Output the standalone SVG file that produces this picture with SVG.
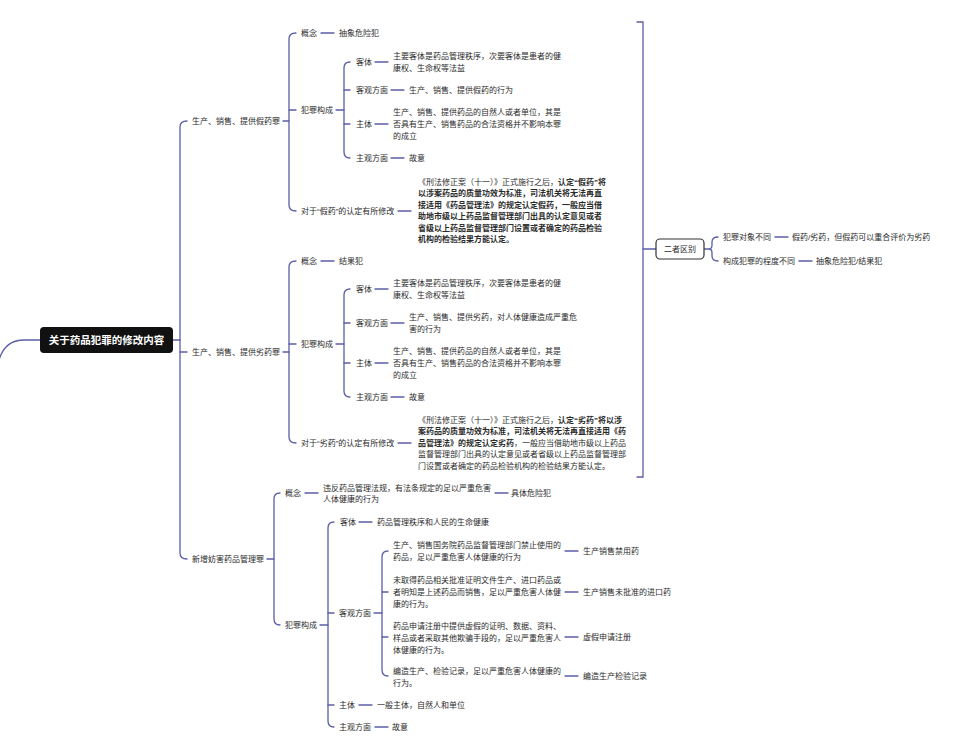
<svg xmlns="http://www.w3.org/2000/svg" width="968" height="745" viewBox="0 0 968 745">
<style>
text{font-family:"Liberation Sans","Noto Sans CJK SC",sans-serif;font-size:8px;fill:#2b2b2b;dominant-baseline:central}
.b{font-weight:bold}
.root{font-size:10.5px;fill:#fff;font-weight:bold;text-anchor:middle}
.mid{text-anchor:middle}
#connectors path{fill:none;stroke:#5b5ea6;stroke-width:1.3;stroke-linecap:round}
</style>
<rect width="968" height="745" fill="#fff"/>
<g id="connectors">
<path d="M-2,364 Q3,340 24,340 H40"/>
<path d="M173,340 H180"/>
<path d="M187,121 Q180,121 180,127 V553 Q180,559 187,559"/>
<path d="M180,352 H187"/>
<path d="M283,121 H289"/>
<path d="M296,33 Q289,33 289,39 V205 Q289,211 296,211"/>
<path d="M289,110 H296"/>
<path d="M321,33 H334"/>
<path d="M336,110 H344"/>
<path d="M350,62 Q344,62 344,68 V152 Q344,158 350,158"/>
<path d="M344,90 H350"/>
<path d="M344,124 H350"/>
<path d="M375,62 H388"/>
<path d="M391,90 H404"/>
<path d="M375,124 H388"/>
<path d="M391,158 H404"/>
<path d="M398,211 H411"/>
<path d="M283,352 H289"/>
<path d="M296,261 Q289,261 289,267 V437 Q289,443 296,443"/>
<path d="M289,344 H296"/>
<path d="M321,261 H334"/>
<path d="M336,344 H344"/>
<path d="M350,289 Q344,289 344,295 V391 Q344,397 350,397"/>
<path d="M344,323 H350"/>
<path d="M344,363 H350"/>
<path d="M375,289 H388"/>
<path d="M391,323 H404"/>
<path d="M375,363 H388"/>
<path d="M391,397 H404"/>
<path d="M398,443 H411"/>
<path d="M637,22 H643 V477 H637"/>
<path d="M643,249 H656"/>
<path d="M704,249 H709"/>
<path d="M718,237 Q712,237 712,242 V245 Q712,249 709,249 Q712,249 712,253 V256 Q712,261 718,261"/>
<path d="M775,237 H788"/>
<path d="M799,261 H812"/>
<path d="M267,559 H274"/>
<path d="M280,493 Q274,493 274,499 V619 Q274,625 280,625"/>
<path d="M305,493 H318"/>
<path d="M495,493 H508"/>
<path d="M320,625 H328"/>
<path d="M334,522 Q328,522 328,528 V721 Q328,727 334,727"/>
<path d="M328,613 H334"/>
<path d="M328,705 H334"/>
<path d="M359,522 H372"/>
<path d="M374,613 H382"/>
<path d="M388,551 Q382,551 382,557 V670 Q382,676 388,676"/>
<path d="M382,592 H388"/>
<path d="M382,637 H388"/>
<path d="M565,551 H578"/>
<path d="M565,592 H578"/>
<path d="M565,637 H578"/>
<path d="M565,676 H578"/>
<path d="M359,705 H372"/>
<path d="M375,727 H388"/>
</g>
<g id="root"><rect x="40" y="327" width="133" height="26" rx="4" fill="#111"/><text class="root" x="106.5" y="340">关于药品犯罪的修改内容</text></g>
<g id="fake"><text x="192" y="121">生产、销售、提供假药罪</text></g>
<g id="fake-concept"><text x="301" y="33">概念</text></g>
<g id="fake-concept-v"><text x="339" y="33">抽象危险犯</text></g>
<g id="fake-comp"><text x="301" y="110">犯罪构成</text></g>
<g id="fake-obj"><text x="356" y="62">客体</text></g>
<g id="fake-obj-v"><text x="393" y="56">主要客体是药品管理秩序，次要客体是患者的健</text><text x="393" y="68">康权、生命权等法益</text></g>
<g id="fake-objside"><text x="356" y="90">客观方面</text></g>
<g id="fake-objside-v"><text x="409" y="90">生产、销售、提供假药的行为</text></g>
<g id="fake-subj"><text x="356" y="124">主体</text></g>
<g id="fake-subj-v"><text x="393" y="112.5">生产、销售、提供药品的自然人或者单位，其是</text><text x="393" y="124.5">否具有生产、销售药品的合法资格并不影响本罪</text><text x="393" y="136.5">的成立</text></g>
<g id="fake-mind"><text x="356" y="158">主观方面</text></g>
<g id="fake-mind-v"><text x="409" y="158">故意</text></g>
<g id="fake-mod"><text x="301" y="211">对于“假药”的认定有所修改</text></g>
<g id="fake-mod-v">
<text x="418" y="182">《刑法修正案（十一）》正式施行之后，<tspan class="b">认定“假药”将</tspan></text>
<text class="b" x="418" y="193.5">以涉案药品的质量功效为标准，司法机关将无法再直</text>
<text class="b" x="418" y="205">接适用《药品管理法》的规定认定假药，一般应当借</text>
<text class="b" x="418" y="216.5">助地市级以上药品监督管理部门出具的认定意见或者</text>
<text class="b" x="418" y="228">省级以上药品监督管理部门设置或者确定的药品检验</text>
<text class="b" x="418" y="239.5">机构的检验结果方能认定。</text>
</g>
<g id="inferior"><text x="192" y="352">生产、销售、提供劣药罪</text></g>
<g id="inf-concept"><text x="301" y="261">概念</text></g>
<g id="inf-concept-v"><text x="339" y="261">结果犯</text></g>
<g id="inf-comp"><text x="301" y="344">犯罪构成</text></g>
<g id="inf-obj"><text x="356" y="289">客体</text></g>
<g id="inf-obj-v"><text x="393" y="283">主要客体是药品管理秩序，次要客体是患者的健</text><text x="393" y="295">康权、生命权等法益</text></g>
<g id="inf-objside"><text x="356" y="323">客观方面</text></g>
<g id="inf-objside-v"><text x="409" y="317.5">生产、销售、提供劣药，对人体健康造成严重危</text><text x="409" y="329.5">害的行为</text></g>
<g id="inf-subj"><text x="356" y="363">主体</text></g>
<g id="inf-subj-v"><text x="393" y="351.5">生产、销售、提供药品的自然人或者单位，其是</text><text x="393" y="363.5">否具有生产、销售药品的合法资格并不影响本罪</text><text x="393" y="375.5">的成立</text></g>
<g id="inf-mind"><text x="356" y="397">主观方面</text></g>
<g id="inf-mind-v"><text x="409" y="397">故意</text></g>
<g id="inf-mod"><text x="301" y="443">对于“劣药”的认定有所修改</text></g>
<g id="inf-mod-v">
<text x="418" y="420">《刑法修正案（十一）》正式施行之后，<tspan class="b">认定“劣药”将以涉</tspan></text>
<text class="b" x="418" y="431.5">案药品的质量功效为标准，司法机关将无法再直接适用《药</text>
<text x="418" y="443"><tspan class="b">品管理法》的规定认定劣药</tspan>，一般应当借助地市级以上药品</text>
<text x="418" y="454.5">监督管理部门出具的认定意见或者省级以上药品监督管理部</text>
<text x="418" y="466">门设置或者确定的药品检验机构的检验结果方能认定。</text>
</g>
<g id="diff"><rect x="656" y="239" width="48" height="20" rx="4" fill="#fff" stroke="#333" stroke-width="1.2"/><text class="mid" x="680" y="249">二者区别</text></g>
<g id="diff-object"><text x="723" y="237">犯罪对象不同</text></g>
<g id="diff-object-v"><text x="792" y="237">假药/劣药，但假药可以重合评价为劣药</text></g>
<g id="diff-degree"><text x="723" y="261">构成犯罪的程度不同</text></g>
<g id="diff-degree-v"><text x="816" y="261">抽象危险犯/结果犯</text></g>
<g id="newcrime"><text x="192" y="559">新增妨害药品管理罪</text></g>
<g id="new-concept"><text x="285" y="493">概念</text></g>
<g id="new-concept-v"><text x="323" y="488">违反药品管理法规，有法条规定的足以严重危害</text><text x="323" y="499.5">人体健康的行为</text></g>
<g id="new-concept-t"><text x="511" y="493">具体危险犯</text></g>
<g id="new-comp"><text x="285" y="625">犯罪构成</text></g>
<g id="new-obj"><text x="340" y="522">客体</text></g>
<g id="new-obj-v"><text x="377" y="522">药品管理秩序和人民的生命健康</text></g>
<g id="new-objside"><text x="339" y="613">客观方面</text></g>
<g id="new-item1"><text x="393" y="545">生产、销售国务院药品监督管理部门禁止使用的</text><text x="393" y="557">药品，足以严重危害人体健康的行为</text></g>
<g id="new-item1-t"><text x="583" y="551">生产销售禁用药</text></g>
<g id="new-item2"><text x="393" y="580">未取得药品相关批准证明文件生产、进口药品或</text><text x="393" y="592">者明知是上述药品而销售，足以严重危害人体健</text><text x="393" y="604">康的行为。</text></g>
<g id="new-item2-t"><text x="583" y="592">生产销售未批准的进口药</text></g>
<g id="new-item3"><text x="393" y="626">药品申请注册中提供虚假的证明、数据、资料、</text><text x="393" y="638">样品或者采取其他欺骗手段的，足以严重危害人</text><text x="393" y="650">体健康的行为。</text></g>
<g id="new-item3-t"><text x="583" y="637">虚假申请注册</text></g>
<g id="new-item4"><text x="393" y="671">编造生产、检验记录，足以严重危害人体健康的</text><text x="393" y="683">行为。</text></g>
<g id="new-item4-t"><text x="583" y="676">编造生产检验记录</text></g>
<g id="new-subj"><text x="339" y="705">主体</text></g>
<g id="new-subj-v"><text x="377" y="705">一般主体，自然人和单位</text></g>
<g id="new-mind"><text x="339" y="727">主观方面</text></g>
<g id="new-mind-v"><text x="392" y="727">故意</text></g>
</svg>
